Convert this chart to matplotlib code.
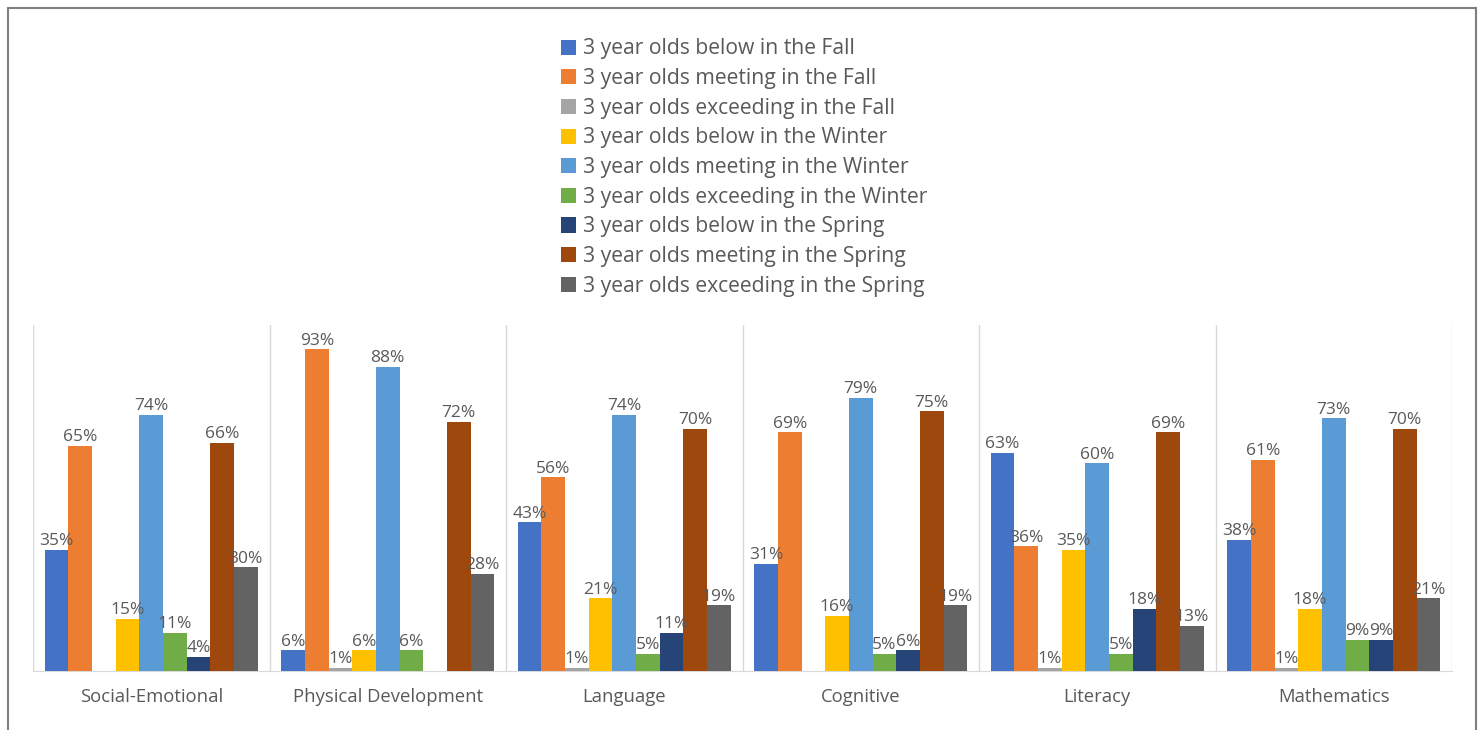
import numpy as np
import matplotlib
matplotlib.use("Agg")
import matplotlib.pyplot as plt
from matplotlib.patches import Rectangle

plt.rcParams['font.family'] = ['Open Sans', 'DejaVu Sans']

categories = ["Social-Emotional", "Physical Development", "Language",
              "Cognitive", "Literacy", "Mathematics"]

series_names = [
    "3 year olds below in the Fall",
    "3 year olds meeting in the Fall",
    "3 year olds exceeding in the Fall",
    "3 year olds below in the Winter",
    "3 year olds meeting in the Winter",
    "3 year olds exceeding in the Winter",
    "3 year olds below in the Spring",
    "3 year olds meeting in the Spring",
    "3 year olds exceeding in the Spring",
]

nan = np.nan
below_fall = [35, 6, 43, 31, 63, 38]
meeting_fall = [65, 93, 56, 69, 36, 61]
exceeding_fall = [nan, 1, 1, nan, 1, 1]
below_winter = [15, 6, 21, 16, 35, 18]
meeting_winter = [74, 88, 74, 79, 60, 73]
exceeding_winter = [11, 6, 5, 5, 5, 9]
below_spring = [4, nan, 11, 6, 18, 9]
meeting_spring = [66, 72, 70, 75, 69, 70]
exceeding_spring = [30, 28, 19, 19, 13, 21]

series_values = [below_fall, meeting_fall, exceeding_fall,
                 below_winter, meeting_winter, exceeding_winter,
                 below_spring, meeting_spring, exceeding_spring]

colors = ["#4472C4", "#ED7D31", "#A5A5A5", "#FFC000", "#5B9BD5",
          "#70AD47", "#264478", "#9E480E", "#636363"]

text_color = "#595959"
grid_color = "#D9D9D9"

fig = plt.figure(figsize=(14.79, 7.30), dpi=100)
ax = fig.add_axes([33 / 1479, 1 - 671 / 730, (1452 - 33) / 1479, 346 / 730])

n = len(series_names)
bar_w = 0.1
x = np.arange(len(categories))
handles = []
for i, (name, vals, c) in enumerate(zip(series_names, series_values, colors)):
    offs = (i - (n - 1) / 2) * bar_w
    v = np.array(vals, dtype=float)
    bars = ax.bar(x + offs, np.nan_to_num(v), width=bar_w, color=c,
                  label=name, zorder=3)
    handles.append(bars)
    for xi, val in zip(x + offs, v):
        if np.isnan(val):
            continue
        ax.text(xi, val + 0.2, f"{int(val)}%", ha="center", va="bottom",
                fontsize=12.5, color=text_color, zorder=4)

ax.set_xlim(-0.5, len(categories) - 0.5)
ax.set_ylim(0, 100)
ax.set_yticks([])
ax.set_xticks(x)
ax.set_xticklabels(categories, fontsize=13.3, color=text_color)
ax.tick_params(axis="x", length=0, pad=12)
for s in ["top", "right", "left"]:
    ax.spines[s].set_visible(False)
ax.spines["bottom"].set_color(grid_color)
for b in np.arange(-0.5, len(categories), 1.0):
    ax.axvline(b, color=grid_color, lw=1, zorder=1)

leg = fig.legend(handles=handles, loc="upper center",
                 bbox_to_anchor=(0.503, 1 - 30 / 730), frameon=False,
                 fontsize=15.2, labelcolor=text_color, handlelength=0.72,
                 handleheight=0.72, handletextpad=0.3, labelspacing=0.41,
                 borderaxespad=0)

fig.patches.append(Rectangle((8 / 1479, -0.05), (1476 - 8) / 1479,
                             1 - 8 / 730 + 0.05, transform=fig.transFigure,
                             fill=False, edgecolor="#7F7F7F", lw=1.5))

fig.savefig("out.png", dpi=100, facecolor="white")
